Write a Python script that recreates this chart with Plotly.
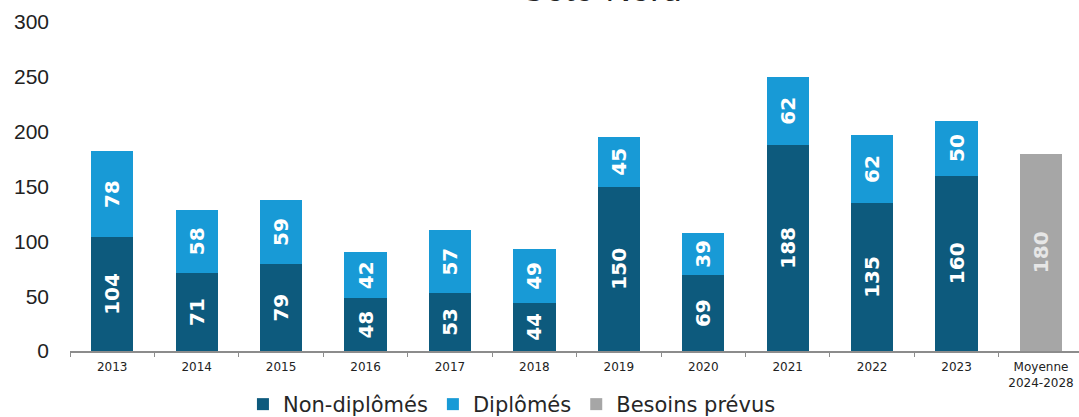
import plotly.graph_objects as go

categories = ["2013", "2014", "2015", "2016", "2017", "2018", "2019", "2020",
              "2021", "2022", "2023", "Moyenne<br>2024-2028"]
non_diplomes = [104, 71, 79, 48, 53, 44, 150, 69, 188, 135, 160, None]
diplomes = [78, 58, 59, 42, 57, 49, 45, 39, 62, 62, 50, None]
besoins = [None] * 11 + [180]
y_ticks = [0, 50, 100, 150, 200, 250, 300]

c_non = "#0d5a7d"
c_dip = "#189ad6"
c_bes = "#a6a6a6"

label_font = dict(family="DejaVu Sans", size=20, color="white", weight="bold")

def txt(vals):
    return [("" if v is None else str(v)) for v in vals]

fig = go.Figure()
fig.add_trace(go.Bar(x=categories, y=non_diplomes, name="Non-diplômés",
                     marker=dict(color=c_non, line=dict(width=0)),
                     text=txt(non_diplomes), textposition="inside",
                     insidetextanchor="middle", textangle=-90,
                     textfont=label_font))
fig.add_trace(go.Bar(x=categories, y=diplomes, name="Diplômés",
                     marker=dict(color=c_dip, line=dict(width=0)),
                     text=txt(diplomes), textposition="inside",
                     insidetextanchor="middle", textangle=-90,
                     textfont=label_font))
fig.add_trace(go.Bar(x=categories, y=besoins, name="Besoins prévus",
                     marker=dict(color=c_bes, line=dict(width=0)),
                     text=txt(besoins), textposition="inside",
                     insidetextanchor="middle", textangle=-90,
                     textfont=dict(family="DejaVu Sans", size=20,
                                   color="#e6e6e6", weight="bold")))

fig.update_layout(
    barmode="stack",
    bargap=0.5,
    width=1079, height=417,
    margin=dict(l=70, r=0, t=22, b=66),
    paper_bgcolor="white", plot_bgcolor="white",
    showlegend=True,
    legend=dict(orientation="h", x=0.438, xanchor="center",
                yref="container", y=0.03, yanchor="middle",
                font=dict(family="DejaVu Sans", size=21, color="#262626"),
                itemwidth=30, traceorder="normal"),
    uniformtext=dict(minsize=20, mode="show"),
)

fig.update_xaxes(
    type="category",
    range=[-0.5, 11.45],
    showline=True, linecolor="#8c8c8c", linewidth=1.5,
    ticks="outside", tickson="boundaries", ticklen=4, tickcolor="#8c8c8c",
    tickfont=dict(family="DejaVu Sans", size=12, color="#222222"),
    ticklabelstandoff=4,
    showgrid=False, automargin=False,
)
fig.update_yaxes(
    range=[0, 300], tickvals=y_ticks,
    showline=False, showgrid=False, zeroline=False,
    tickfont=dict(family="Liberation Sans", size=21, color="#222222"),
    ticklabelstandoff=20, automargin=False,
)

fig.add_annotation(text="Côte-Nord", xref="paper", yref="paper",
                   x=0.526, y=1, xanchor="center", yanchor="bottom",
                   yshift=12, showarrow=False,
                   font=dict(family="Liberation Sans", size=35, color="#222222"))

fig.write_html("out.html",
               config={"displayModeBar": False},
               post_script="document.body.style.margin='0';"
                           "document.body.style.overflow='hidden';")
